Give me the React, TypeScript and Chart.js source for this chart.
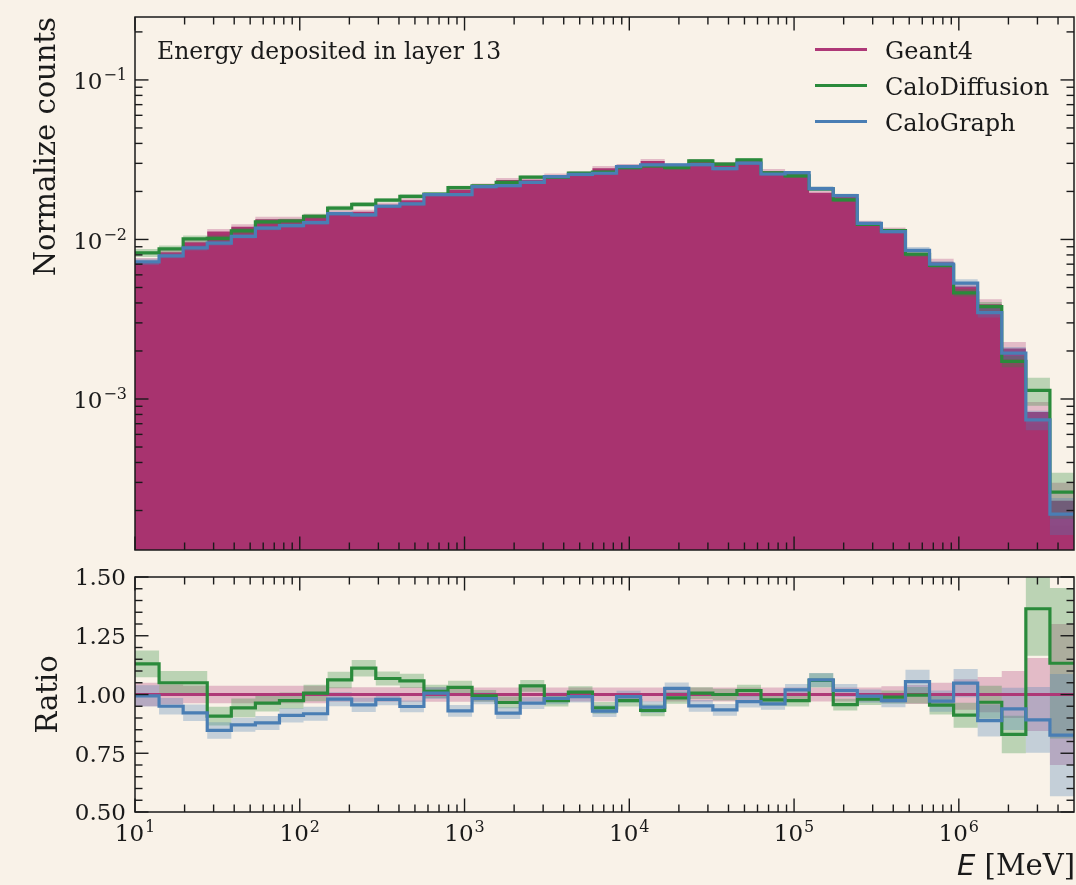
import React, { useEffect, useRef } from "react";
import { Chart, registerables } from "chart.js";

Chart.register(...registerables);

// ---------------- data ----------------
const BIN_EDGES = [
  10, 14, 19.6, 27.44, 38.42, 53.78, 75.3, 105.4, 147.6, 206.6, 289.3, 405, 567, 793.7,
  1111, 1556, 2178, 3049, 4269, 5976, 8367, 11714, 16399, 22959, 32143, 45000, 63000,
  88198, 123477, 172868, 242015, 338821, 474349, 664089, 929725, 1301615, 1822261,
  2551165, 3571631, 5000283,
];

const GEANT4 = [
  7.28e-3, 8.3e-3, 9.6e-3, 1.12e-2, 1.2e-2, 1.34e-2, 1.34e-2, 1.39e-2, 1.48e-2, 1.49e-2,
  1.65e-2, 1.76e-2, 1.9e-2, 2.05e-2, 2.18e-2, 2.36e-2, 2.37e-2, 2.52e-2, 2.58e-2, 2.8e-2,
  2.89e-2, 3.1e-2, 2.86e-2, 3.09e-2, 2.97e-2, 3.1e-2, 2.68e-2, 2.57e-2, 1.96e-2, 1.85e-2,
  1.27e-2, 1.15e-2, 8.1e-3, 7.2e-3, 5.08e-3, 3.92e-3, 2.07e-3, 8.3e-4, 2.3e-4,
];

const CALODIFFUSION = [
  8.23e-3, 8.72e-3, 1.008e-2, 1.017e-2, 1.132e-2, 1.29e-2, 1.305e-2, 1.398e-2, 1.572e-2, 1.657e-2,
  1.762e-2, 1.862e-2, 1.925e-2, 2.114e-2, 2.167e-2, 2.28e-2, 2.458e-2, 2.454e-2, 2.606e-2, 2.64e-2,
  2.815e-2, 2.889e-2, 2.82e-2, 3.109e-2, 2.97e-2, 3.153e-2, 2.618e-2, 2.503e-2, 2.078e-2, 1.77e-2,
  1.245e-2, 1.137e-2, 8.08e-3, 6.88e-3, 4.63e-3, 3.79e-3, 1.72e-3, 1.133e-3, 2.61e-4,
];

const CALOGRAPH = [
  7.24e-3, 7.89e-3, 8.85e-3, 9.49e-3, 1.045e-2, 1.178e-2, 1.221e-2, 1.276e-2, 1.45e-2, 1.424e-2,
  1.615e-2, 1.67e-2, 1.911e-2, 1.911e-2, 2.143e-2, 2.174e-2, 2.282e-2, 2.477e-2, 2.557e-2, 2.601e-2,
  2.864e-2, 2.933e-2, 2.934e-2, 2.942e-2, 2.777e-2, 3.007e-2, 2.573e-2, 2.621e-2, 2.082e-2, 1.881e-2,
  1.261e-2, 1.12e-2, 8.55e-3, 7.0e-3, 5.32e-3, 3.48e-3, 1.94e-3, 7.4e-4, 1.9e-4,
];

const RATIO_CALODIFFUSION = [
  1.13, 1.05, 1.05, 0.908, 0.943, 0.963, 0.974, 1.006, 1.062, 1.112,
  1.068, 1.058, 1.013, 1.03, 0.994, 0.966, 1.037, 0.974, 1.01, 0.943,
  0.974, 0.932, 0.986, 1.006, 1.0, 1.017, 0.977, 0.974, 1.06, 0.957,
  0.98, 0.989, 0.997, 0.955, 0.912, 0.967, 0.83, 1.365, 1.133,
];

const RATIO_CALOGRAPH = [
  0.994, 0.95, 0.922, 0.847, 0.871, 0.879, 0.911, 0.918, 0.98, 0.956,
  0.979, 0.949, 1.006, 0.93, 0.983, 0.921, 0.963, 0.983, 0.991, 0.929,
  0.991, 0.946, 1.026, 0.952, 0.935, 0.97, 0.96, 1.02, 1.062, 1.017,
  0.993, 0.974, 1.055, 0.972, 1.048, 0.889, 0.939, 0.892, 0.827,
];

// relative uncertainties (half-width of shaded bands)
const ERR_GEANT4 = [
  0.05, 0.043, 0.037, 0.037, 0.037, 0.037, 0.037, 0.037, 0.031, 0.031,
  0.031, 0.031, 0.031, 0.031, 0.03, 0.03, 0.03, 0.03, 0.03, 0.03,
  0.03, 0.03, 0.03, 0.03, 0.03, 0.03, 0.03, 0.03, 0.03, 0.03,
  0.03, 0.035, 0.04, 0.05, 0.065, 0.075, 0.1, 0.155, 0.3,
];
const ERR_CALODIFFUSION = [
  0.057, 0.05, 0.05, 0.04, 0.04, 0.035, 0.035, 0.035, 0.035, 0.035,
  0.03, 0.03, 0.028, 0.028, 0.025, 0.025, 0.025, 0.025, 0.025, 0.025,
  0.025, 0.025, 0.025, 0.025, 0.025, 0.025, 0.025, 0.025, 0.03, 0.025,
  0.025, 0.028, 0.035, 0.04, 0.053, 0.07, 0.08, 0.2, 0.32,
];
const ERR_CALOGRAPH = [
  0.045, 0.035, 0.035, 0.035, 0.03, 0.03, 0.03, 0.03, 0.03, 0.03,
  0.025, 0.025, 0.025, 0.025, 0.025, 0.025, 0.025, 0.025, 0.025, 0.025,
  0.025, 0.025, 0.025, 0.025, 0.025, 0.025, 0.025, 0.025, 0.03, 0.028,
  0.028, 0.028, 0.05, 0.045, 0.06, 0.068, 0.09, 0.14, 0.26,
];

const GEANT4_RATIO = 1;

const SERIES_NAMES = ["Geant4", "CaloDiffusion", "CaloGraph"];
const X_TICK_EXPONENTS = [1, 2, 3, 4, 5, 6];
const TOP_Y_TICK_EXPONENTS = [-3, -2, -1];
const RATIO_TICKS = [0.5, 0.75, 1.0, 1.25, 1.5];
const RATIO_TICK_LABELS = ["0.50", "0.75", "1.00", "1.25", "1.50"];
const ANNOTATION = "Energy deposited in layer 13";
const TOP_Y_TITLE = "Normalize counts";
const RATIO_Y_TITLE = "Ratio";
const X_TITLE_VAR = "E";
const X_TITLE_UNIT = " [MeV]";

// ---------------- style ----------------
const X_MIN = 10;
const X_MAX = BIN_EDGES[BIN_EDGES.length - 1];
const TOP_Y_MIN = 1.131e-4;
const TOP_Y_MAX = 0.248;
const RATIO_MIN = 0.5;
const RATIO_MAX = 1.5;

const BG = "rgb(249,242,232)";
const TEXT = "#1a1a1a";
const G4_COLOR = "#AE3877";
const G4_FILL = "#A8336F";
const CD_COLOR = "#2A8A3B";
const CG_COLOR = "#4A7EB4";
const G4_BAND = "rgba(176,58,124,0.3)";
const CD_BAND = "rgba(42,138,59,0.3)";
const CG_BAND = "rgba(74,126,180,0.3)";
const SERIF = "'DejaVu Serif', serif";
const SANS = "'DejaVu Sans', sans-serif";
const TICK_FONT = 23;
const SUP_FONT = 16;
const SUP_RAISE = 9;
const TITLE_FONT = 29;
const LEGEND_FONT = 24;
const ANNOT_FONT = 23.5;
const LINE_W = 3.2;
const MAJOR_LEN = 13.5;
const MINOR_LEN = 7.5;

// ---------------- helpers ----------------
function stepPoints(values: number[]) {
  const pts = values.map((v, i) => ({ x: BIN_EDGES[i], y: v }));
  pts.push({ x: BIN_EDGES[values.length], y: values[values.length - 1] });
  return pts;
}

function lineDs(values: number[], color: string, order: number) {
  return {
    data: stepPoints(values),
    borderColor: color,
    backgroundColor: color,
    borderWidth: LINE_W,
    fill: false,
    stepped: true,
    pointRadius: 0,
    order,
  };
}

function bandDs(lo: number[], hi: number[], color: string, order: number) {
  return [
    {
      data: stepPoints(hi),
      borderColor: "rgba(0,0,0,0)",
      borderWidth: 0,
      backgroundColor: color,
      fill: "+1",
      stepped: true,
      pointRadius: 0,
      order,
    },
    {
      data: stepPoints(lo),
      borderColor: "rgba(0,0,0,0)",
      borderWidth: 0,
      backgroundColor: "rgba(0,0,0,0)",
      fill: false,
      stepped: true,
      pointRadius: 0,
      order,
    },
  ];
}

function logMinor(minExp: number, maxExp: number, lo: number, hi: number) {
  const out: number[] = [];
  for (let e = minExp; e <= maxExp; e++) {
    for (let m = 2; m <= 9; m++) {
      const v = m * Math.pow(10, e);
      if (v > lo * 1.0001 && v < hi * 0.9999) out.push(v);
    }
  }
  return out;
}

function drawPow(ctx: CanvasRenderingContext2D, exp: number, x: number, baseline: number, align: "center" | "right") {
  const base = "10";
  const sup = exp < 0 ? "\u2212" + Math.abs(exp) : String(exp);
  ctx.font = `${TICK_FONT}px ${SERIF}`;
  const wb = ctx.measureText(base).width;
  ctx.font = `${SUP_FONT}px ${SERIF}`;
  const ws = ctx.measureText(sup).width;
  const gap = 1;
  const total = wb + gap + ws;
  const x0 = align === "center" ? x - total / 2 : x - total;
  ctx.textAlign = "left";
  ctx.textBaseline = "alphabetic";
  ctx.font = `${TICK_FONT}px ${SERIF}`;
  ctx.fillText(base, x0, baseline);
  ctx.font = `${SUP_FONT}px ${SERIF}`;
  ctx.fillText(sup, x0 + wb + gap, baseline - SUP_RAISE);
}

type FrameCfg = {
  xMajor: number[];
  xMinor: number[];
  yMajor: number[];
  yMinor: number[];
  draw: (ctx: CanvasRenderingContext2D, chart: any) => void;
};

function framePlugin(cfg: FrameCfg) {
  return {
    id: "frameTicks",
    afterDraw(chart: any) {
      const { ctx, chartArea: a, scales } = chart;
      const xs = scales.x;
      const ys = scales.y;
      ctx.save();
      ctx.strokeStyle = TEXT;
      ctx.fillStyle = TEXT;
      ctx.lineWidth = 1.4;
      const seg = (x1: number, y1: number, x2: number, y2: number) => {
        ctx.beginPath();
        ctx.moveTo(x1, y1);
        ctx.lineTo(x2, y2);
        ctx.stroke();
      };
      const xt = (vals: number[], len: number) => {
        for (const v of vals) {
          const p = xs.getPixelForValue(v);
          if (p < a.left - 0.5 || p > a.right + 0.5) continue;
          seg(p, a.bottom, p, a.bottom - len);
          seg(p, a.top, p, a.top + len);
        }
      };
      const yt = (vals: number[], len: number) => {
        for (const v of vals) {
          const p = ys.getPixelForValue(v);
          if (p < a.top - 0.5 || p > a.bottom + 0.5) continue;
          seg(a.left, p, a.left + len, p);
          seg(a.right, p, a.right - len, p);
        }
      };
      xt(cfg.xMajor, MAJOR_LEN);
      xt(cfg.xMinor, MINOR_LEN);
      yt(cfg.yMajor, MAJOR_LEN);
      yt(cfg.yMinor, MINOR_LEN);
      ctx.lineWidth = 1.5;
      ctx.strokeRect(a.left, a.top, a.right - a.left, a.bottom - a.top);
      cfg.draw(ctx, chart);
      ctx.restore();
    },
  };
}

const X_MAJOR = X_TICK_EXPONENTS.map((e) => Math.pow(10, e));
const X_MINOR = logMinor(1, 6, X_MIN, X_MAX);

function baseOptions(padding: any, yScale: any) {
  return {
    animation: false,
    responsive: false,
    maintainAspectRatio: false,
    devicePixelRatio: 1,
    events: [],
    layout: { padding },
    scales: {
      x: { type: "logarithmic", min: X_MIN, max: X_MAX, display: false },
      y: { ...yScale, display: false },
    },
    plugins: { legend: { display: false }, tooltip: { enabled: false } },
  };
}

export default function App() {
  const topRef = useRef<HTMLCanvasElement>(null);
  const botRef = useRef<HTMLCanvasElement>(null);

  useEffect(() => {
    const g4Hi = GEANT4.map((v, i) => v * (1 + ERR_GEANT4[i]));
    const g4Lo = GEANT4.map((v, i) => v * (1 - ERR_GEANT4[i]));
    const cdHi = CALODIFFUSION.map((v, i) => v * (1 + ERR_CALODIFFUSION[i]));
    const cdLo = CALODIFFUSION.map((v, i) => v * (1 - ERR_CALODIFFUSION[i]));
    const cgHi = CALOGRAPH.map((v, i) => v * (1 + ERR_CALOGRAPH[i]));
    const cgLo = CALOGRAPH.map((v, i) => v * (1 - ERR_CALOGRAPH[i]));

    const topChart = new Chart(topRef.current as HTMLCanvasElement, {
      type: "line",
      data: {
        datasets: [
          {
            data: stepPoints(GEANT4),
            borderColor: "rgba(0,0,0,0)",
            borderWidth: 0,
            backgroundColor: G4_FILL,
            fill: "start",
            stepped: true,
            pointRadius: 0,
            order: 10,
          },
          ...bandDs(g4Lo, g4Hi, G4_BAND, 9),
          ...bandDs(cdLo, cdHi, CD_BAND, 8),
          ...bandDs(cgLo, cgHi, CG_BAND, 7),
          lineDs(CALODIFFUSION, CD_COLOR, 2),
          lineDs(CALOGRAPH, CG_COLOR, 1),
        ] as any,
      },
      options: baseOptions(
        { left: 135, top: 17, right: 2, bottom: 10 },
        { type: "logarithmic", min: TOP_Y_MIN, max: TOP_Y_MAX }
      ) as any,
      plugins: [
        framePlugin({
          xMajor: X_MAJOR,
          xMinor: X_MINOR,
          yMajor: TOP_Y_TICK_EXPONENTS.map((e) => Math.pow(10, e)),
          yMinor: logMinor(-4, -1, TOP_Y_MIN, TOP_Y_MAX),
          draw: (ctx, chart) => {
            const ys = chart.scales.y;
            for (const e of TOP_Y_TICK_EXPONENTS) {
              const p = ys.getPixelForValue(Math.pow(10, e));
              drawPow(ctx, e, 127, p + 9.5, "right");
            }
            // y title (top aligned)
            ctx.save();
            ctx.translate(55, chart.chartArea.top);
            ctx.rotate(-Math.PI / 2);
            ctx.font = `${TITLE_FONT}px ${SERIF}`;
            ctx.textAlign = "right";
            ctx.textBaseline = "alphabetic";
            ctx.fillText(TOP_Y_TITLE, 0, 0);
            ctx.restore();
            // annotation
            ctx.font = `${ANNOT_FONT}px ${SERIF}`;
            ctx.textAlign = "left";
            ctx.textBaseline = "alphabetic";
            ctx.fillText(ANNOTATION, 157, 59);
            // legend
            const colors = [G4_COLOR, CD_COLOR, CG_COLOR];
            const rows = [49.5, 85.5, 121.5];
            for (let i = 0; i < SERIES_NAMES.length; i++) {
              ctx.strokeStyle = colors[i];
              ctx.lineWidth = LINE_W;
              ctx.beginPath();
              ctx.moveTo(815, rows[i]);
              ctx.lineTo(867, rows[i]);
              ctx.stroke();
              ctx.fillStyle = TEXT;
              ctx.font = `${LEGEND_FONT}px ${SERIF}`;
              ctx.fillText(SERIES_NAMES[i], 885, rows[i] + 9.3);
            }
          },
        }),
      ],
    });

    const ratioMinor: number[] = [];
    for (let k = 10; k <= 30; k++) {
      const v = k * 0.05;
      if (k % 5 !== 0) ratioMinor.push(v);
    }

    const botChart = new Chart(botRef.current as HTMLCanvasElement, {
      type: "line",
      data: {
        datasets: [
          ...bandDs(
            ERR_GEANT4.map((e) => GEANT4_RATIO - e),
            ERR_GEANT4.map((e) => GEANT4_RATIO + e),
            G4_BAND,
            9
          ),
          ...bandDs(
            RATIO_CALODIFFUSION.map((r, i) => r - ERR_CALODIFFUSION[i]),
            RATIO_CALODIFFUSION.map((r, i) => r + ERR_CALODIFFUSION[i]),
            CD_BAND,
            8
          ),
          ...bandDs(
            RATIO_CALOGRAPH.map((r, i) => r - ERR_CALOGRAPH[i]),
            RATIO_CALOGRAPH.map((r, i) => r + ERR_CALOGRAPH[i]),
            CG_BAND,
            7
          ),
          {
            data: [
              { x: X_MIN, y: GEANT4_RATIO },
              { x: X_MAX, y: GEANT4_RATIO },
            ],
            borderColor: G4_COLOR,
            borderWidth: LINE_W,
            fill: false,
            pointRadius: 0,
            order: 3,
          },
          lineDs(RATIO_CALODIFFUSION, CD_COLOR, 2),
          lineDs(RATIO_CALOGRAPH, CG_COLOR, 1),
        ] as any,
      },
      options: baseOptions(
        { left: 135, top: 17, right: 2, bottom: 73 },
        { type: "linear", min: RATIO_MIN, max: RATIO_MAX }
      ) as any,
      plugins: [
        framePlugin({
          xMajor: X_MAJOR,
          xMinor: X_MINOR,
          yMajor: RATIO_TICKS,
          yMinor: ratioMinor,
          draw: (ctx, chart) => {
            const xs = chart.scales.x;
            const ys = chart.scales.y;
            const a = chart.chartArea;
            ctx.font = `${TICK_FONT}px ${SERIF}`;
            ctx.textAlign = "right";
            ctx.textBaseline = "alphabetic";
            RATIO_TICKS.forEach((t, i) => {
              ctx.fillText(RATIO_TICK_LABELS[i], 126, ys.getPixelForValue(t) + 8.3);
            });
            for (const e of X_TICK_EXPONENTS) {
              drawPow(ctx, e, xs.getPixelForValue(Math.pow(10, e)), a.bottom + 29, "center");
            }
            // Ratio title
            ctx.save();
            ctx.translate(57, (a.top + a.bottom) / 2);
            ctx.rotate(-Math.PI / 2);
            ctx.font = `${TITLE_FONT}px ${SERIF}`;
            ctx.textAlign = "center";
            ctx.textBaseline = "alphabetic";
            ctx.fillText(RATIO_Y_TITLE, 0, 0);
            ctx.restore();
            // x title
            ctx.textBaseline = "alphabetic";
            ctx.textAlign = "right";
            ctx.font = `${TITLE_FONT}px ${SERIF}`;
            const wUnit = ctx.measureText(X_TITLE_UNIT).width;
            ctx.fillText(X_TITLE_UNIT, 1075, a.bottom + 63);
            ctx.font = `oblique ${TITLE_FONT}px ${SANS}`;
            ctx.fillText(X_TITLE_VAR, 1075 - wUnit, a.bottom + 63);
          },
        }),
      ],
    });

    return () => {
      topChart.destroy();
      botChart.destroy();
    };
  }, []);

  return (
    <div
      style={{
        position: "fixed",
        left: 0,
        top: 0,
        width: 1076,
        height: 885,
        background: BG,
        overflow: "hidden",
      }}
    >
      <canvas
        ref={topRef}
        width={1076}
        height={560}
        style={{ position: "absolute", left: 0, top: 0, width: 1076, height: 560 }}
      />
      <canvas
        ref={botRef}
        width={1076}
        height={325}
        style={{ position: "absolute", left: 0, top: 560, width: 1076, height: 325 }}
      />
    </div>
  );
}
